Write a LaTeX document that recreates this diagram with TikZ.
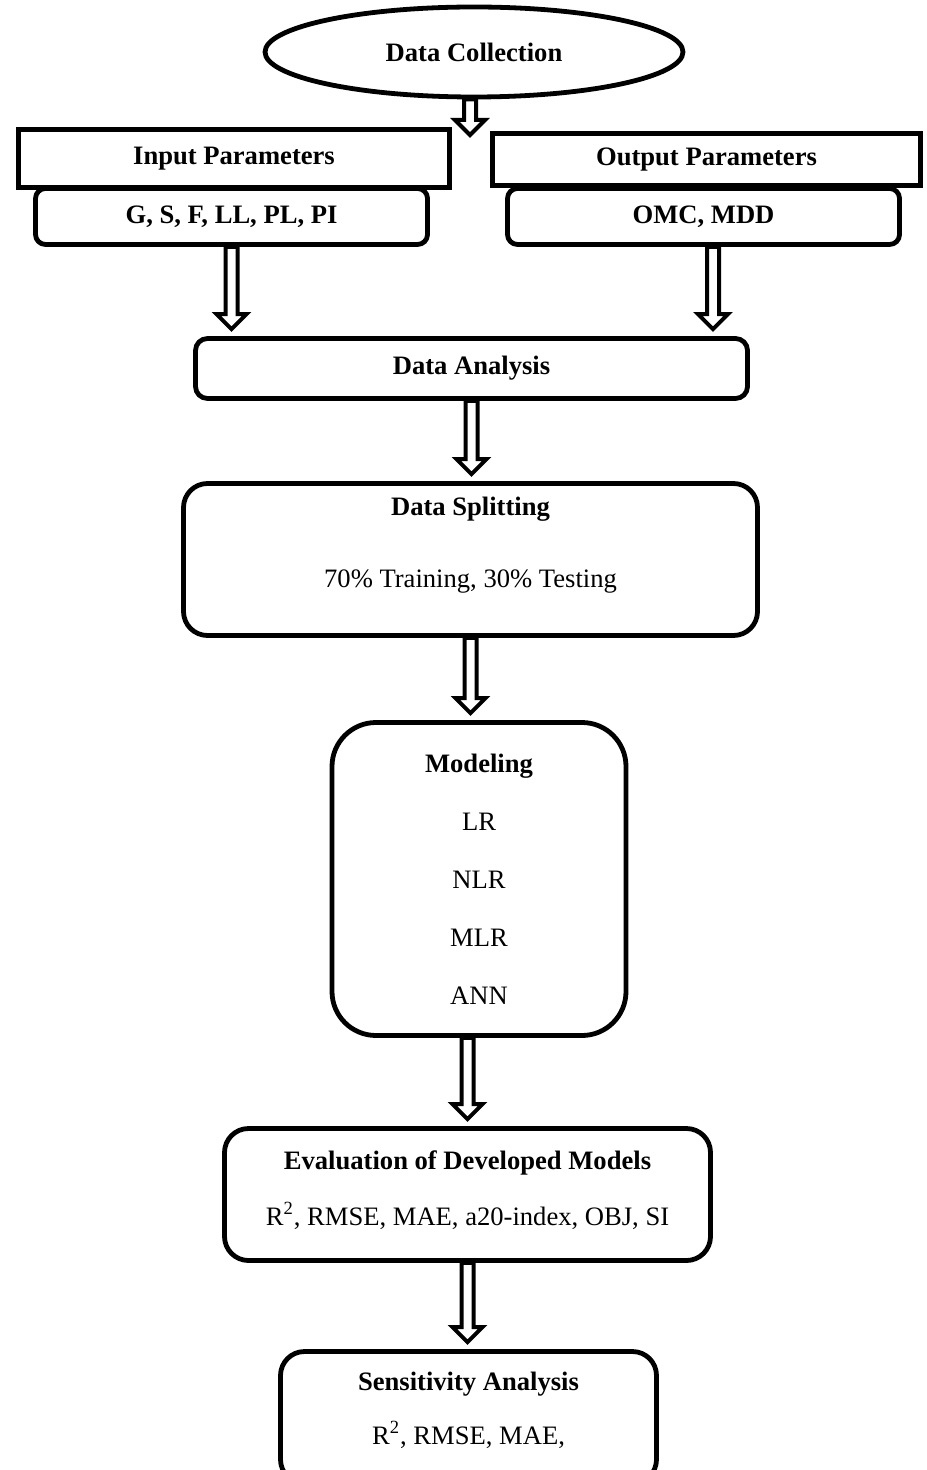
\documentclass[tikz,border=0pt]{standalone}
\usepackage{fontspec}
\setmainfont{Liberation Serif}
\usepackage{tikz}
\usetikzlibrary{backgrounds}
\usetikzlibrary{calc}
\usetikzlibrary{shapes.geometric}
\tikzset{every node/.style={font=\fontsize{13.3}{16}\selectfont}}
\tikzset{headbox/.style={draw, line width=2.4pt, fill=white, rectangle, inner sep=0pt}}
\tikzset{stepbox/.style={draw, line width=2.4pt, fill=white, rectangle, rounded corners=#1, inner sep=0pt, align=center}}
\tikzset{stepbox/.default=6pt}
\tikzset{flowarrow/.style={draw, fill=white, line width=2pt, line join=miter,
  to path={let \p1=(\tikztostart), \p2=(\tikztotarget) in
    (\x2-3pt,\y1) -- (\x2-3pt,\y2+11pt) -- (\x2-7.5pt,\y2+11pt) -- (\x2,\y2+3.5pt)
    -- (\x2+7.5pt,\y2+11pt) -- (\x2+3pt,\y2+11pt) -- (\x2+3pt,\y1) -- cycle}}}

\begin{document}
\begin{tikzpicture}[x=0.5pt,y=-0.5pt]
\useasboundingbox (0,0) rectangle (926,1470);
\clip (0,0) rectangle (926,1470);
% top of the flow
\node [ellipse, draw, line width=2.4pt, fill=white, minimum width=209pt, minimum height=45pt, inner sep=0pt] (dc) at (474,52) {\textbf{Data Collection}};
\coordinate (fork) at (470,142);
\node [headbox, minimum width=215.5pt, minimum height=29pt] (inp) at (234,158.5) {\textbf{Input Parameters}};
\node [headbox, minimum width=214pt, minimum height=26pt] (outp) at (706.5,159.5) {\textbf{Output Parameters}};
\node [stepbox=5pt, minimum width=196pt, minimum height=28pt] (gs) at (231.5,216.5) {\textbf{G, S, F, LL, PL, PI}};
\node [stepbox=5pt, minimum width=196pt, minimum height=28pt] (omc) at (703.5,216.5) {\textbf{OMC, MDD}};
% main column
\node [stepbox, minimum width=276pt, minimum height=30pt] (da) at (471.5,368.5) {\textbf{Data Analysis}};
\node [stepbox=12pt, minimum width=287pt, minimum height=76pt, text depth=17pt] (ds) at (470.5,559.5)
  {\textbf{Data Splitting}\\[20pt]70\% Training, 30\% Testing};
\node [stepbox=22pt, minimum width=147pt, minimum height=156.5pt] (mo) at (479,879)
  {\textbf{Modeling}\\[13pt]LR\\[13pt]NLR\\[13pt]MLR\\[13pt]ANN};
\node [stepbox=12pt, minimum width=243pt, minimum height=66pt, text depth=6.5pt] (ev) at (467.5,1194.5)
  {\textbf{Evaluation of Developed Models}\\[12pt]R\textsuperscript{2}, RMSE, MAE, a20-index, OBJ, SI};
\node [stepbox=12pt, minimum width=188pt, minimum height=66pt, text depth=9.5pt] (sa) at (468.5,1417.5)
  {\textbf{Sensitivity Analysis}\\[11pt]R\textsuperscript{2}, RMSE, MAE,};
% hollow arrows
\begin{scope}[on background layer]
\draw [flowarrow] (dc.south -| fork) to (fork);
\draw [flowarrow] (gs.south) to (gs.south |- da.north);
\draw [flowarrow] ([xshift=4.75pt]omc.south) to ([xshift=4.75pt]omc.south |- da.north);
\draw [flowarrow] (da.south) to (da.south |- ds.north);
\draw [flowarrow] (ds.south) to (ds.south |- mo.north);
\draw [flowarrow] (mo.south -| ev.north) to (ev.north);
\draw [flowarrow] (ev.south) to (ev.south |- sa.north);
\end{scope}
\end{tikzpicture}
\end{document}
